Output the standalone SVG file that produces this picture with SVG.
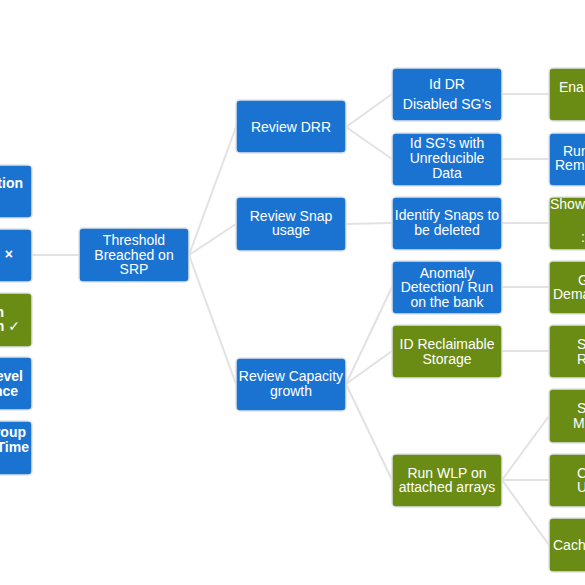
<svg xmlns="http://www.w3.org/2000/svg" width="585" height="585" viewBox="0 0 585 585">
<style>
.b{fill:#1b73d1;stroke:#dfe3e8;stroke-width:1.5}
.g{fill:#6a8c15;stroke:#dfe3e8;stroke-width:1.5}
text{font-family:"Liberation Sans",Arial,"DejaVu Sans",sans-serif;font-size:14px;fill:#ffffff}
.c{text-anchor:middle}
.e{text-anchor:end;font-weight:bold}
.conn{stroke:#e2e2e2;stroke-width:2;fill:none}
</style>
<rect width="585" height="585" fill="#ffffff"/>
<g id="connectors" class="conn">
<path d="M32 255H79"/>
<path d="M189 255L236 127"/>
<path d="M189 255L236 224"/>
<path d="M189 255L236 384"/>
<path d="M346 127L392 94"/>
<path d="M346 127L392 159"/>
<path d="M346 224L392 223"/>
<path d="M346 384L392 287"/>
<path d="M346 384L392 351"/>
<path d="M346 384L392 480"/>
<path d="M502 94H549"/>
<path d="M502 159H549"/>
<path d="M502 223H549"/>
<path d="M502 287H549"/>
<path d="M502 351H549"/>
<path d="M502 480L549 416"/>
<path d="M502 480H549"/>
<path d="M502 480L549 545"/>
</g>
<g id="left1"><rect class="b" x="-80" y="165" width="112" height="53" rx="4"/><text class="e" x="23" y="188">tion</text></g>
<g id="left2"><rect class="b" x="-80" y="229" width="112" height="53" rx="4"/><text class="e" x="13" y="259">×</text></g>
<g id="left3"><rect class="g" x="-80" y="293" width="112" height="54" rx="4"/><text class="e" x="4" y="317">n</text><text class="e" x="20" y="331">n ✓</text></g>
<g id="left4"><rect class="b" x="-80" y="357" width="112" height="53" rx="4"/><text class="e" x="23" y="381">evel</text><text class="e" x="18" y="396">nce</text></g>
<g id="left5"><rect class="b" x="-80" y="421" width="112" height="54" rx="4"/><text class="e" x="26" y="437">roup</text><text class="e" x="29" y="452">Time</text></g>
<g id="threshold"><rect class="b" x="79" y="228" width="110" height="54" rx="4"/><text class="c" x="134" y="245">Threshold</text><text class="c" x="134" y="260">Breached on</text><text class="c" x="134" y="274">SRP</text></g>
<g id="review-drr"><rect class="b" x="236" y="100" width="110" height="53" rx="4"/><text class="c" x="291" y="132">Review DRR</text></g>
<g id="review-snap"><rect class="b" x="236" y="197" width="110" height="54" rx="4"/><text class="c" x="291" y="221">Review Snap</text><text class="c" x="291" y="235">usage</text></g>
<g id="review-capacity"><rect class="b" x="236" y="358" width="110" height="53" rx="4"/><text class="c" x="291" y="381">Review Capacity</text><text class="c" x="291" y="396">growth</text></g>
<g id="id-dr"><rect class="b" x="392" y="68" width="110" height="53" rx="4"/><text class="c" x="447" y="89">Id DR</text><text class="c" x="447" y="109">Disabled SG’s</text></g>
<g id="id-sg"><rect class="b" x="392" y="133" width="110" height="53" rx="4"/><text class="c" x="447" y="148">Id SG’s with</text><text class="c" x="447" y="163">Unreducible</text><text class="c" x="447" y="178">Data</text></g>
<g id="identify-snaps"><rect class="b" x="392" y="197" width="110" height="53" rx="4"/><text class="c" x="447" y="220">Identify Snaps to</text><text class="c" x="447" y="235">be deleted</text></g>
<g id="anomaly"><rect class="b" x="392" y="261" width="110" height="53" rx="4"/><text class="c" x="447" y="278">Anomaly</text><text class="c" x="447" y="292">Detection/ Run</text><text class="c" x="447" y="307">on the bank</text></g>
<g id="id-reclaimable"><rect class="g" x="392" y="325" width="110" height="53" rx="4"/><text class="c" x="447" y="349">ID Reclaimable</text><text class="c" x="447" y="364">Storage</text></g>
<g id="run-wlp"><rect class="g" x="392" y="454" width="110" height="53" rx="4"/><text class="c" x="447" y="478">Run WLP on</text><text class="c" x="447" y="492">attached arrays</text></g>
<g id="enable"><rect class="g" x="549" y="68" width="110" height="53" rx="4"/><text x="559" y="92">Ena</text></g>
<g id="run-rem"><rect class="b" x="549" y="133" width="110" height="53" rx="4"/><text x="563" y="156">Run</text><text x="555" y="170">Rem</text></g>
<g id="show"><rect class="g" x="549" y="197" width="110" height="53" rx="4"/><text x="550" y="209">Show</text><text x="581" y="242">:</text></g>
<g id="g-dema"><rect class="g" x="549" y="261" width="110" height="53" rx="4"/><text x="578" y="285">G</text><text x="553" y="299">Dema</text></g>
<g id="s-r"><rect class="g" x="549" y="325" width="110" height="53" rx="4"/><text x="577" y="349">S</text><text x="577" y="364">R</text></g>
<g id="s-m"><rect class="g" x="549" y="389" width="110" height="54" rx="4"/><text x="577" y="413">S</text><text x="573" y="428">M</text></g>
<g id="c-u"><rect class="g" x="549" y="454" width="110" height="53" rx="4"/><text x="577" y="478">C</text><text x="577" y="492">U</text></g>
<g id="cach"><rect class="g" x="549" y="518" width="110" height="54" rx="4"/><text x="553" y="550">Cach</text></g>
</svg>
